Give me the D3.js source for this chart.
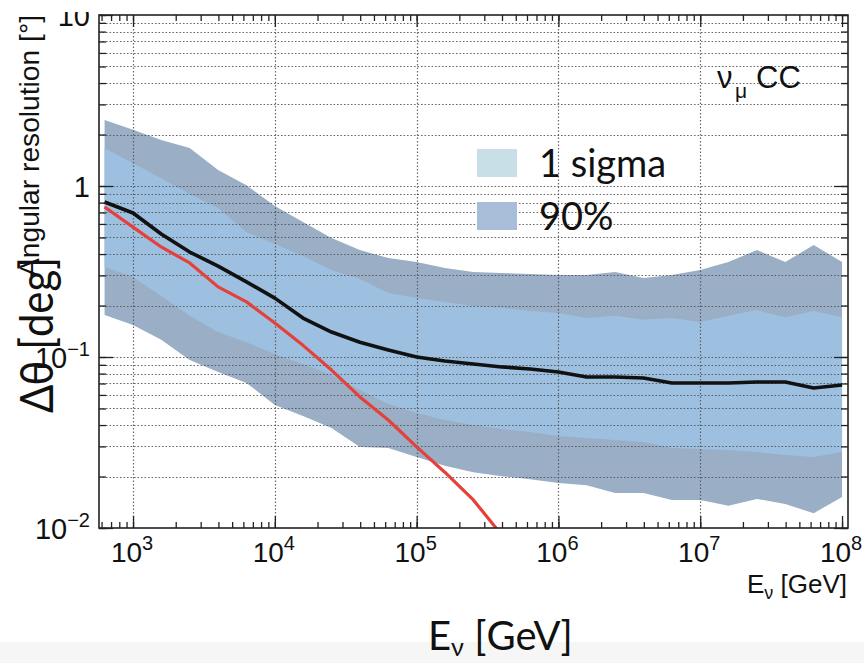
<!DOCTYPE html>
<html>
<head>
<meta charset="utf-8">
<script src="https://cdn.jsdelivr.net/npm/d3@7"></script>
<style>
  body { margin: 0; background: #ffffff; }
  svg { display: block; }
</style>
</head>
<body>
<svg id="chart" width="864" height="663"></svg>
<script>
// Neutrino energy samples [GeV]
const energies = [630, 1000, 1580, 2510, 3980, 6310, 1.0e4, 1.58e4, 2.51e4, 3.98e4, 6.31e4,
  1.0e5, 1.58e5, 2.51e5, 3.98e5, 6.31e5, 1.0e6, 1.58e6, 2.51e6, 3.98e6, 6.31e6,
  1.0e7, 1.58e7, 2.51e7, 3.98e7, 6.31e7, 1.0e8];

// 90% containment band [deg]
const band90Upper = [2.43, 2.13, 1.86, 1.67, 1.24, 1.01, 0.764, 0.616, 0.496, 0.422, 0.379,
  0.359, 0.332, 0.314, 0.310, 0.306, 0.302, 0.302, 0.314, 0.290, 0.302,
  0.323, 0.359, 0.422, 0.359, 0.452, 0.359];
const band90Lower = [0.176, 0.154, 0.126, 0.0960, 0.0817, 0.0705, 0.0524, 0.0452, 0.0385, 0.0298, 0.0294,
  0.0260, 0.0231, 0.0212, 0.0201, 0.0193, 0.0183, 0.0178, 0.0160, 0.0160, 0.0146,
  0.0146, 0.0135, 0.0148, 0.0138, 0.0122, 0.0152];

// 1 sigma band [deg]
const sigmaUpper = [1.67, 1.36, 1.11, 0.898, 0.744, 0.538, 0.458, 0.390, 0.323, 0.286, 0.237,
  0.221, 0.210, 0.199, 0.194, 0.186, 0.181, 0.169, 0.174, 0.165, 0.169,
  0.160, 0.174, 0.188, 0.171, 0.186, 0.171];
const sigmaLower = [0.336, 0.294, 0.227, 0.174, 0.140, 0.122, 0.104, 0.091, 0.0785, 0.0641, 0.0531,
  0.0471, 0.0428, 0.0400, 0.0379, 0.0364, 0.0345, 0.0336, 0.0327, 0.0318, 0.0294,
  0.0290, 0.0286, 0.0278, 0.0267, 0.0260, 0.0278];

// Median angular resolution [deg]
const medianRes = [0.806, 0.695, 0.524, 0.411, 0.340, 0.275, 0.221, 0.169, 0.140, 0.122, 0.110,
  0.100, 0.0947, 0.0910, 0.0875, 0.0851, 0.0817, 0.0764, 0.0764, 0.0753, 0.0705,
  0.0705, 0.0705, 0.0714, 0.0714, 0.0659, 0.0686];

// Kinematic neutrino-muon angle [deg]
const kinEnergies = [630, 1000, 1580, 2510, 3980, 6310, 1.0e4, 1.58e4, 2.51e4, 3.98e4, 6.31e4,
  1.0e5, 1.58e5, 2.51e5, 3.98e5];
const kinematicAngle = [0.754, 0.575, 0.440, 0.355, 0.257, 0.210, 0.158, 0.117, 0.0839, 0.0584, 0.0428,
  0.0298, 0.0212, 0.0146, 0.0091];

// Axis labels
const xTickValues = [1e3, 1e4, 1e5, 1e6, 1e7, 1e8];
const xTickBase = ["10", "10", "10", "10", "10", "10"];
const xTickSup = ["3", "4", "5", "6", "7", "8"];
const yTickValues = [0.01, 0.1, 1, 10];
const yTickBase = ["10", "10", "1", "10"];
const yTickSup = ["\u22122", "\u22121", "", ""];

const legendLabels = ["1 sigma", "90%"];
const legendColors = ["#c9dfe8", "#a8bdd7"];

const svg = d3.select("#chart");
const L = 99, R = 848, T = 15, B = 528;

const x = d3.scaleLog().domain([10 ** 2.76, 10 ** 8.042]).range([L, R]);
const y = d3.scaleLog().domain([0.01, 10]).range([B, T]);

const helv = "'Liberation Sans', Arial, Helvetica, sans-serif";
const soft = "Lato, 'Open Sans', sans-serif";

// light strip at the page bottom
svg.append("rect").attr("x", 0).attr("y", 642).attr("width", 864).attr("height", 21)
  .attr("fill", "#f6f6f6");

svg.append("defs").append("clipPath").attr("id", "plot")
  .append("rect").attr("x", L).attr("y", T).attr("width", R - L).attr("height", B - T);
svg.select("defs").append("clipPath").attr("id", "topcut")
  .append("rect").attr("x", 0).attr("y", 12).attr("width", 864).attr("height", 651);

const plot = svg.append("g").attr("clip-path", "url(#plot)");

// bands
const outer = energies.map((e, i) => ({ e, lo: band90Lower[i], hi: band90Upper[i] }));
const inner = energies.map((e, i) => ({ e, lo: sigmaLower[i], hi: sigmaUpper[i] }));
const area = d3.area().x(d => x(d.e)).y0(d => y(d.lo)).y1(d => y(d.hi));
plot.append("path").datum(outer).attr("d", area).attr("fill", "#9aaec6");
plot.append("path").datum(inner).attr("d", area).attr("fill", "#9ec0e0");

// dotted grid
const gridY = y.ticks().filter(v => v > 0.0100001 && v < 9.99);
const gridStyle = g => g.attr("stroke", "#505050").attr("stroke-width", 1.2)
  .attr("stroke-dasharray", "1.6,1.9").attr("opacity", 0.85);
plot.append("g").selectAll("line").data(gridY).join("line")
  .attr("x1", L).attr("x2", R).attr("y1", d => Math.round(y(d)) + 0.5).attr("y2", d => Math.round(y(d)) + 0.5)
  .call(gridStyle);
plot.append("g").selectAll("line").data(xTickValues.filter(v => v < 9.9e7)).join("line")
  .attr("y1", T).attr("y2", B).attr("x1", d => Math.round(x(d)) + 0.5).attr("x2", d => Math.round(x(d)) + 0.5)
  .call(gridStyle);

// curves
const line = d3.line().x(d => x(d[0])).y(d => y(d[1]));
plot.append("path").datum(energies.map((e, i) => [e, medianRes[i]]))
  .attr("d", line).attr("fill", "none").attr("stroke", "#111").attr("stroke-width", 3.6)
  .attr("stroke-linejoin", "round");
plot.append("path").datum(kinEnergies.map((e, i) => [e, kinematicAngle[i]]))
  .attr("d", line).attr("fill", "none").attr("stroke", "#e5413a").attr("stroke-width", 3.2)
  .attr("stroke-linejoin", "round");

// axes with inward ticks
const minorX = x.ticks();
const minorY = y.ticks();
function axisGroup(axis, tx, ty) {
  const g = svg.append("g").attr("transform", `translate(${tx},${ty})`).call(axis);
  g.select(".domain").remove();
  g.selectAll(".tick line").attr("stroke", "#222").attr("stroke-width", 1.3);
  return g;
}
axisGroup(d3.axisBottom(x).tickValues(minorX).tickSize(-6).tickFormat(""), 0, B);
axisGroup(d3.axisBottom(x).tickValues(xTickValues).tickSize(-12).tickFormat(""), 0, B);
axisGroup(d3.axisTop(x).tickValues(minorX).tickSize(-6).tickFormat(""), 0, T);
axisGroup(d3.axisTop(x).tickValues(xTickValues).tickSize(-12).tickFormat(""), 0, T);
axisGroup(d3.axisLeft(y).tickValues(minorY).tickSize(-7).tickFormat(""), L, 0);
axisGroup(d3.axisLeft(y).tickValues(yTickValues).tickSize(-14).tickFormat(""), L, 0);
axisGroup(d3.axisRight(y).tickValues(minorY).tickSize(-7).tickFormat(""), R, 0);
axisGroup(d3.axisRight(y).tickValues(yTickValues).tickSize(-14).tickFormat(""), R, 0);

svg.append("rect").attr("x", L).attr("y", T).attr("width", R - L).attr("height", B - T)
  .attr("fill", "none").attr("stroke", "#222").attr("stroke-width", 1.6);

// x tick labels
xTickValues.forEach((v, i) => {
  const t = svg.append("text").attr("x", x(v) - 1).attr("y", 562)
    .attr("text-anchor", "middle").attr("font-family", helv).attr("font-size", 28).attr("fill", "#111");
  t.append("tspan").text(xTickBase[i]);
  t.append("tspan").attr("dy", -12).attr("font-size", 20).text(xTickSup[i]);
});

// y tick labels
const yLab = svg.append("g").attr("clip-path", "url(#topcut)");
yTickValues.forEach((v, i) => {
  const t = yLab.append("text").attr("x", 90).attr("y", y(v) + 11)
    .attr("text-anchor", "end").attr("font-family", helv).attr("font-size", 29).attr("fill", "#111");
  t.append("tspan").text(yTickBase[i]);
  if (yTickSup[i]) t.append("tspan").attr("dy", -12).attr("font-size", 20).text(yTickSup[i]);
});

// axis titles
svg.append("text").attr("transform", "translate(39,15) rotate(-90)")
  .attr("text-anchor", "end").attr("font-family", helv).attr("font-size", 28).attr("fill", "#111")
  .attr("textLength", 262).attr("lengthAdjust", "spacingAndGlyphs")
  .text("Angular resolution [\u00b0]");

const ex = svg.append("text").attr("x", 847).attr("y", 593).attr("text-anchor", "end")
  .attr("font-family", helv).attr("font-size", 26).attr("fill", "#111");
ex.append("tspan").text("E");
ex.append("tspan").attr("dy", 6).attr("font-size", 18).text("\u03bd");
ex.append("tspan").attr("dy", -6).text(" [GeV]");

// process label
const pl = svg.append("text").attr("y", 88)
  .attr("font-family", helv).attr("font-size", 31).attr("fill", "#111");
pl.append("tspan").attr("x", 717).text("\u03bd");
pl.append("tspan").attr("x", 735).attr("dy", 10).attr("font-size", 21).text("\u03bc");
pl.append("tspan").attr("x", 756).attr("dy", -10).text("CC");

// legend
legendLabels.forEach((lab, i) => {
  const yy = 149 + i * 53;
  svg.append("rect").attr("x", 477).attr("y", yy).attr("width", 40).attr("height", 28)
    .attr("fill", legendColors[i]);
  svg.append("text").attr("x", 539).attr("y", yy + 28)
    .attr("font-family", soft).attr("font-size", 38).attr("fill", "#111").text(lab);
});

// slide-level titles
svg.append("text").attr("transform", "translate(53,413) rotate(-90)")
  .attr("font-family", soft).attr("font-size", 46).attr("fill", "#111")
  .attr("textLength", 156).attr("lengthAdjust", "spacingAndGlyphs")
  .text("\u0394\u03b8 [deg]");

const bx = svg.append("text").attr("x", 428).attr("y", 650)
  .attr("font-family", soft).attr("font-size", 40).attr("fill", "#111");
bx.append("tspan").text("E");
bx.append("tspan").attr("dy", 6).attr("font-size", 25).text("\u03bd");
bx.append("tspan").attr("dy", -6).text(" [GeV]");
</script>
</body>
</html>
